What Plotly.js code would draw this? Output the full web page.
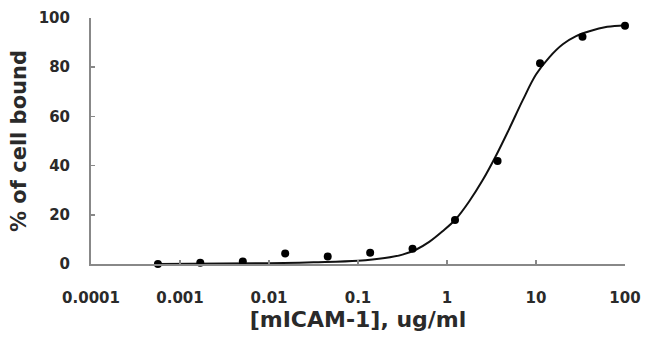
<!DOCTYPE html>
<html>
<head>
<meta charset="utf-8">
<script src="https://cdn.plot.ly/plotly-3.0.1.min.js"></script>
<style>html,body{margin:0;padding:0;background:#fff}#chart{width:650px;height:356px}</style>
</head>
<body>
<div id="chart"></div>
<script>
// measured data points: concentration (ug/ml) and % of cell bound
const concentration = [0.000565, 0.00169, 0.00508, 0.0152, 0.0457, 0.137, 0.41, 1.23, 3.7, 11.1, 33.3, 100];
const percentBound = [0, 0.5, 1, 4.3, 3, 4.6, 6.2, 17.9, 41.9, 81.6, 92.4, 96.9];

// fitted curve
const curveX = [0.000562, 0.01, 0.0316, 0.1, 0.2, 0.316, 0.447, 0.631, 0.891, 1.26, 1.78, 2.51, 3.55, 5.01, 7.08, 10, 14.1, 20, 28.2, 39.8, 63.1, 100];
const curveY = [0, 0.3, 0.7, 1.3, 2.4, 3.8, 5.8, 9, 13.3, 18.3, 25.5, 34, 44, 55, 66.5, 77, 84, 89.3, 92.6, 94.6, 96.4, 97.1];

const tickVals = [0.0001, 0.001, 0.01, 0.1, 1, 10, 100];
const tickText = ["0.0001", "0.001", "0.01", "0.1", "1", "10", "100"];
const yTickVals = [0, 20, 40, 60, 80, 100];

const fontFam = "'DejaVu Sans', sans-serif";
const textColor = '#2a2a2a';

const traces = [
  {x: curveX, y: curveY, type: 'scatter', mode: 'lines',
   line: {color: '#111', width: 2, shape: 'spline', smoothing: 1}, hoverinfo: 'skip'},
  {x: concentration, y: percentBound, type: 'scatter', mode: 'markers',
   marker: {color: '#000', size: 8}, cliponaxis: false}
];

const layout = {
  width: 650, height: 356,
  margin: {l: 91, r: 25, t: 18, b: 92},
  paper_bgcolor: '#fff', plot_bgcolor: '#fff',
  showlegend: false,
  font: {family: fontFam, color: textColor},
  xaxis: {
    type: 'log', range: [-4, 2],
    tickvals: tickVals, ticktext: tickText,
    ticks: 'inside', ticklen: 4, tickcolor: '#888', tickwidth: 1.5,
    showline: true, linecolor: '#888', linewidth: 2,
    showgrid: false, zeroline: false,
    tickfont: {family: fontFam, size: 15, color: textColor, weight: 'bold'},
    ticklabelstandoff: 19,
    title: {text: '[mICAM-1], ug/ml', font: {family: fontFam, size: 22, color: textColor, weight: 'bold'}, standoff: 6}
  },
  yaxis: {
    range: [0, 100],
    tickvals: yTickVals,
    ticks: 'inside', ticklen: 4, tickcolor: '#888', tickwidth: 1.5,
    showline: true, linecolor: '#888', linewidth: 2,
    showgrid: false, zeroline: false,
    tickfont: {family: fontFam, size: 15, color: textColor, weight: 'bold'},
    ticklabelstandoff: 16,
    title: {text: '% of cell bound', font: {family: fontFam, size: 21, color: textColor, weight: 'bold'}, standoff: 6}
  }
};

Plotly.newPlot('chart', traces, layout, {displayModeBar: false, staticPlot: true});
</script>
</body>
</html>
